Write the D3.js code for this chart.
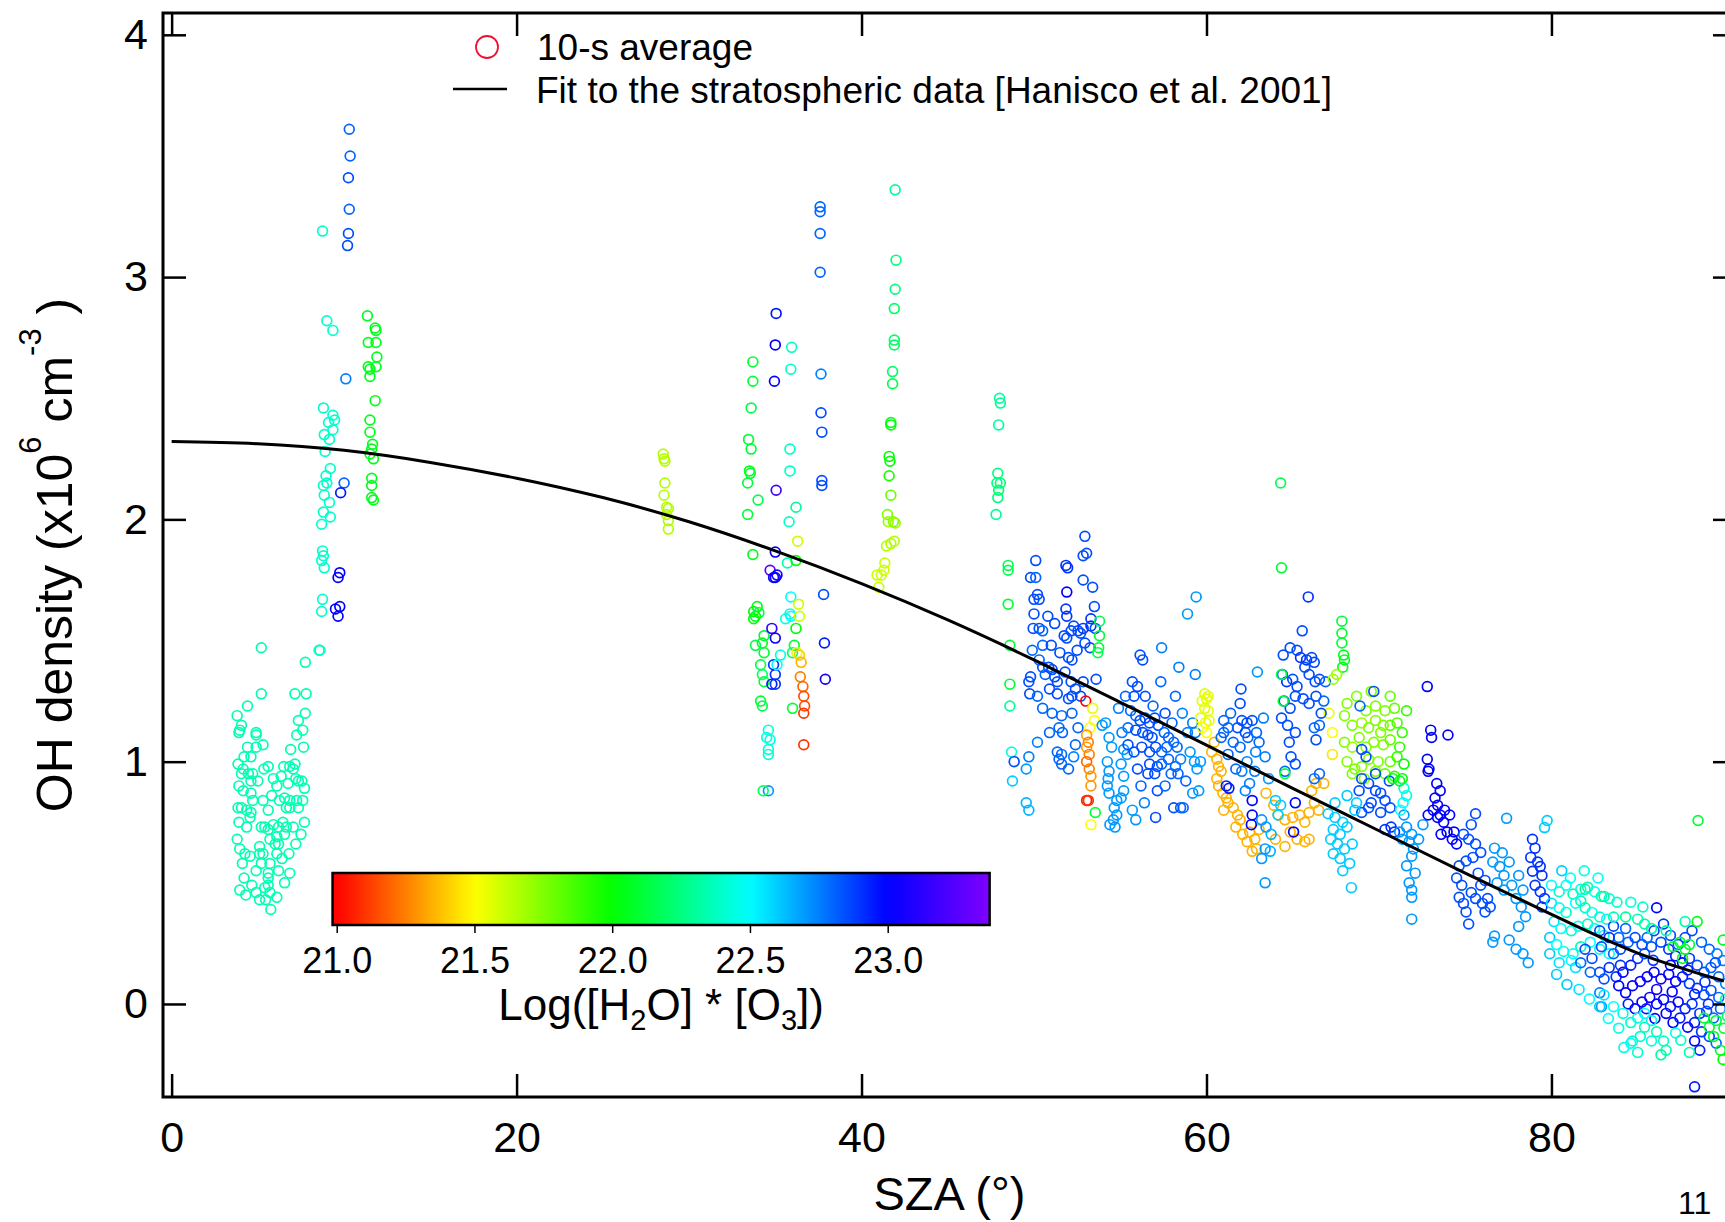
<!DOCTYPE html>
<html>
<head>
<meta charset="utf-8">
<script src="https://cdn.jsdelivr.net/npm/d3@7"></script>
<style>
  body { margin: 0; background: #fff; }
  svg { display: block; }
  text { font-family: "Liberation Sans", Arial, sans-serif; fill: #000; }
</style>
</head>
<body>
<div id="chart"></div>
<script>
// Axis ticks
const xTicks = [0, 20, 40, 60, 80];
const yTicks = [0, 1, 2, 3, 4];
const cbTicks = [21.0, 21.5, 22.0, 22.5, 23.0];

// Fit to the stratospheric data (Hanisco et al. 2001)
const fitSza = [0, 5, 10, 15, 20, 25, 30, 35, 40, 45, 50, 55, 60, 65, 70, 75, 80, 85, 90];
const fitOh  = [2.321, 2.312, 2.285, 2.235, 2.17, 2.09, 1.99, 1.87, 1.735, 1.585, 1.42, 1.245, 1.068, 0.89, 0.715, 0.54, 0.37, 0.21, 0.095];

// 10-s averages: [SZA, OH (1e6 cm-3), log([H2O]*[O3])]
const ptsA = [[5.2,1.47,22.35],[5.2,1.28,22.35],[4.4,1.23,22.35],[3.8,1.19,22.35],[4.05,1.15,22.35],[3.95,1.13,22.35],[3.9,1.12,22.35],[4.9,1.12,22.35],[4.9,1.11,22.35],[4.4,1.06,22.35],[4.9,1.06,22.35],[5.3,1.07,22.35],[3.85,0.99,22.35],[4.15,0.97,22.35],[4.05,0.95,22.35],[4.45,0.95,22.35],[4.7,0.95,22.35],[5.0,0.92,22.35],[4.6,0.92,22.35],[5.35,0.97,22.35],[5.9,0.93,22.35],[6.35,0.94,22.35],[6.75,0.91,22.35],[6.85,0.98,22.35],[7.15,0.99,22.35],[7.05,0.97,22.35],[7.35,0.92,22.35],[7.55,0.92,22.35],[7.7,0.89,22.35],[3.9,0.90,22.35],[4.15,0.88,22.35],[4.6,0.87,22.35],[4.7,0.84,22.35],[3.85,0.81,22.35],[4.05,0.81,22.35],[4.35,0.80,22.35],[4.6,0.79,22.35],[4.55,0.77,22.35],[3.9,0.75,22.35],[4.35,0.73,22.35],[6.25,0.84,22.35],[6.55,0.85,22.35],[6.85,0.84,22.35],[6.65,0.81,22.35],[7.25,0.84,22.35],[7.6,0.84,22.35],[7.35,0.81,22.35],[6.85,0.81,22.35],[5.2,0.73,22.35],[5.4,0.73,22.35],[5.6,0.72,22.35],[5.9,0.74,22.35],[6.2,0.73,22.35],[6.45,0.75,22.35],[6.65,0.73,22.35],[6.55,0.70,22.35],[7.05,0.73,22.35],[7.7,0.75,22.35],[6.1,0.69,22.35],[5.7,0.68,22.35],[6.0,0.66,22.35],[6.2,0.66,22.35],[3.8,0.68,22.35],[3.95,0.64,22.35],[4.25,0.62,22.35],[4.55,0.61,22.35],[5.1,0.65,22.35],[5.1,0.62,22.35],[5.3,0.62,22.35],[6.1,0.62,22.35],[5.7,0.58,22.35],[6.2,0.55,22.35],[5.6,0.54,22.35],[5.6,0.52,22.35],[6.85,0.54,22.35],[6.55,0.50,22.35],[3.95,0.47,22.35],[4.3,0.45,22.35],[4.65,0.49,22.35],[4.9,0.46,22.35],[5.4,0.48,22.35],[5.6,0.49,22.35],[5.7,0.46,22.35],[6.1,0.44,22.35],[5.45,0.43,22.35],[5.75,0.39,22.35],[5.1,0.43,22.35],[7.75,1.41,22.35],[7.15,1.28,22.35],[7.8,1.28,22.35],[7.75,1.20,22.35],[7.35,1.17,22.35],[7.6,1.13,22.35],[7.25,1.11,22.35],[7.65,1.06,22.35],
  [4.2,1.02,22.35],[4.6,1.02,22.35],[5.6,0.98,22.35],[5.8,0.86,22.35],[6.1,0.90,22.35],[5.3,0.84,22.35],[5.6,0.80,22.35],[6.4,0.60,22.35],[6.8,0.62,22.35],[7.2,0.66,22.35],[7.5,0.70,22.35],[7.2,0.93,22.35],[4.1,0.58,22.35],[4.9,0.55,22.35],[6.5,0.98,22.35],[4.2,0.52,22.35],[6.9,1.05,22.35],[5.2,0.58,22.35]];

const ptsB = [[8.75,3.19,22.4],[9.0,2.82,22.4],[9.35,2.78,22.4],[8.8,2.46,22.4],[9.1,2.40,22.4],[9.35,2.43,22.4],[9.45,2.41,22.4],[8.85,2.35,22.4],[9.35,2.37,22.4],[9.15,2.33,22.4],[8.9,2.28,22.4],[9.2,2.21,22.4],[8.95,2.18,22.4],[8.8,2.14,22.4],[9.0,2.15,22.4],[8.85,2.10,22.4],[9.15,2.07,22.4],[8.8,2.03,22.4],[9.2,2.01,22.4],[8.75,1.87,22.4],[8.85,1.80,22.4],[8.7,1.83,22.4],[8.75,1.67,22.4],[8.7,1.62,22.4],[8.6,1.46,22.4],[8.55,1.46,22.4],[8.7,1.98,22.4],[8.8,1.85,22.4],
  [10.3,3.61,22.8],[10.35,3.50,22.8],[10.25,3.41,22.85],[10.3,3.28,22.8],[10.25,3.18,22.85],[10.2,3.13,22.85],[10.1,2.58,22.75],[10.0,2.15,22.8],[9.8,2.11,22.95],[9.75,1.78,23.0],[9.65,1.76,23.0],[9.5,1.63,23.0],[9.75,1.64,23.0],[9.65,1.60,23.0],
  [11.35,2.84,22.05],[11.8,2.79,22.05],[11.85,2.78,22.05],[11.85,2.73,22.05],[11.4,2.73,22.05],[11.9,2.67,22.05],[11.4,2.63,22.05],[11.85,2.63,22.05],[11.5,2.62,22.05],[11.5,2.59,22.05],[11.8,2.49,22.05],[11.5,2.41,22.05],[11.5,2.36,22.05],[11.65,2.31,22.05],[11.6,2.29,22.05],[11.7,2.25,22.05],[11.5,2.27,22.05],[11.6,2.17,22.05],[11.6,2.14,22.05],[11.6,2.09,22.05],[11.7,2.08,22.05]];

const ptsC = [[28.5,2.27,21.65],[28.55,2.25,21.65],[28.6,2.24,21.65],[28.6,2.15,21.65],[28.55,2.10,21.65],[28.7,2.05,21.65],[28.8,2.045,21.65],[28.7,2.02,21.65],[28.8,1.995,21.65],[28.8,1.96,21.65]];

const ptsD = [[33.7,2.65,22.1],[33.7,2.57,22.1],[33.6,2.46,22.15],[33.45,2.33,22.1],[33.6,2.29,22.1],[33.5,2.20,22.05],[33.55,2.19,22.1],[33.4,2.15,22.1],[34.0,2.08,22.15],[33.4,2.02,22.1],[33.7,1.855,22.05],
  [33.95,1.64,22.05],[33.75,1.62,22.0],[33.85,1.60,22.05],[34.05,1.615,22.1],[33.75,1.59,22.0],[34.35,1.52,22.1],[34.25,1.49,22.05],[33.85,1.48,22.15],[34.35,1.45,22.1],[34.15,1.40,22.15],[34.25,1.36,22.2],[34.35,1.33,22.1],[34.15,1.25,22.1],[34.25,1.23,22.15],
  [35.05,2.85,22.95],[35.0,2.72,23.0],[34.95,2.57,23.0],[35.05,2.12,23.2],[35.0,1.865,23.0],[34.7,1.79,23.25],[34.9,1.76,23.05],[35.1,1.77,23.05],[35.0,1.76,23.0],[34.8,1.55,23.15],[35.0,1.51,23.05],[34.9,1.40,22.9],[35.0,1.36,22.9],[34.8,1.32,22.95],[35.0,1.32,22.9],
  [34.6,0.88,22.7],[34.3,0.88,22.2],[35.95,2.71,22.4],[35.9,2.62,22.4],[35.85,2.29,22.4],[35.85,2.20,22.4],[36.2,2.05,22.3],[35.8,1.99,22.4],[36.3,1.91,21.6],[35.7,1.82,22.35],[36.2,1.83,22.0],[35.9,1.68,22.5],[35.9,1.60,22.5],[35.85,1.61,22.45],[35.6,1.59,22.45],[36.35,1.65,21.6],[36.4,1.60,21.6],[36.2,1.55,22.0],[36.1,1.48,22.1],[36.0,1.45,22.2],[36.25,1.45,21.55],[36.4,1.44,21.4],[36.5,1.41,21.35],[36.45,1.35,21.25],[36.6,1.31,21.2],[36.65,1.27,21.15],[36.7,1.23,21.15],[36.65,1.20,21.1],[36.65,1.07,21.1],[34.6,1.13,22.45],[34.5,1.10,22.45],[34.7,1.09,22.45],[34.6,1.05,22.45],[34.6,1.03,22.4],[35.1,1.40,22.5],[35.3,1.44,22.45],[36.0,1.22,22.1],
  [37.6,3.29,22.8],[37.6,3.27,22.8],[37.6,3.18,22.8],[37.6,3.02,22.8],[37.65,2.60,22.75],[37.65,2.44,22.85],[37.7,2.36,22.85],[37.7,2.16,22.85],[37.7,2.14,22.85],[37.8,1.69,22.85],[37.85,1.49,22.95],[37.9,1.34,23.05]];

const ptsE = [[41.95,3.36,22.3],[42.0,3.07,22.25],[41.95,2.95,22.25],[41.9,2.87,22.2],[41.9,2.74,22.2],[41.9,2.72,22.2],[41.8,2.61,22.2],[41.8,2.56,22.15],[41.7,2.40,22.05],[41.7,2.39,22.0],[41.6,2.26,22.0],[41.65,2.24,22.0],[41.6,2.18,21.95],[41.7,2.10,21.8],[41.5,2.02,21.75],[41.55,1.99,21.7],[41.85,1.99,21.75],[41.95,1.985,21.7],[41.9,1.91,21.65],[41.7,1.90,21.65],[41.45,1.89,21.65],[41.35,1.82,21.6],[41.3,1.79,21.6],[41.15,1.77,21.6],[40.9,1.77,21.6],[41.0,1.72,21.6]];

const ptsF = [[48.0,2.50,22.3],[48.05,2.48,22.3],[47.95,2.39,22.3],[47.9,2.19,22.25],[47.85,2.15,22.25],[48.05,2.15,22.25],[47.95,2.12,22.2],[47.9,2.09,22.25],[47.8,2.02,22.3],[48.5,1.81,22.15],[48.5,1.79,22.15],[48.5,1.65,22.1],[48.6,1.48,22.1],[48.6,1.32,22.1],[48.6,1.23,22.3],[48.7,1.04,22.45],[48.85,1.00,22.85],[48.75,0.92,22.6]];

const ptsR1 = [[52.95,1.93,22.85],[51.85,1.81,22.9],[51.95,1.80,22.9],[52.85,1.85,22.85],[53.05,1.86,22.85],[50.1,1.83,22.85],[49.8,1.76,22.85],[50.1,1.76,22.8],[50.2,1.69,22.85],[50.0,1.67,22.85],[50.3,1.67,22.85],[51.9,1.70,23.0],[52.85,1.75,22.85],[53.4,1.72,22.85],[53.5,1.64,22.85],[50.0,1.61,22.85],[49.95,1.55,22.85],[50.3,1.55,22.85],[50.5,1.54,22.8],[51.85,1.63,22.9],[51.9,1.60,22.9],[53.3,1.59,22.9],[53.3,1.56,22.9],[53.55,1.55,22.85],[52.3,1.56,22.85],[52.55,1.54,22.85],[52.85,1.55,22.9],[52.15,1.54,22.85],[52.7,1.53,22.85],[49.9,1.46,22.8],[50.5,1.48,22.8],[51.0,1.48,22.85],[51.75,1.52,22.85],[51.9,1.51,22.85],[52.95,1.49,22.85],[53.25,1.47,22.85],[52.0,1.43,22.85],[52.2,1.42,22.85],[49.8,1.35,22.85],[49.7,1.33,22.85],[49.75,1.28,22.85],[50.5,1.39,22.85],[50.85,1.39,22.85],[51.05,1.38,22.85],[50.65,1.36,22.8],[51.2,1.35,22.85],[51.35,1.33,22.85],[52.15,1.33,22.85],[52.0,1.26,22.85],[52.2,1.27,22.85],[50.5,1.22,22.8],[51.05,1.20,22.8],[51.6,1.19,22.8],[51.35,1.28,22.85],[51.45,1.14,22.8],[51.65,1.12,22.8],[51.35,1.04,22.8],[51.6,1.03,22.8],[51.45,1.01,22.8],[51.6,0.99,22.8],[49.7,1.02,22.75],[49.55,0.97,22.7],[49.55,0.83,22.65],[49.7,0.80,22.65],[52.7,1.27,22.85],[52.85,1.33,22.85],[52.55,1.14,22.8],[53.6,1.34,22.85],
  [50.8,1.60,22.85],[51.2,1.57,22.85],[51.5,1.45,22.85],[50.3,1.42,22.8],[50.9,1.30,22.85],[51.8,1.37,22.85],[52.4,1.30,22.85],[52.5,1.46,22.85],[50.2,1.27,22.8],[50.9,1.12,22.8],[50.2,1.08,22.75],[52.2,1.20,22.8],[52.4,1.07,22.8],[52.0,0.97,22.8],[52.3,1.02,22.75],
  [53.8,1.58,22.15],[53.8,1.52,22.1],[53.75,1.47,22.1],[53.7,1.45,22.15],
  [53.0,1.25,21.0],[53.4,1.22,21.55],[53.5,1.17,21.5],[53.25,1.14,21.5],[53.05,1.11,21.3],[53.15,1.08,21.25],[53.05,1.06,21.3],[53.2,1.03,21.25],[53.05,1.00,21.2],[53.2,0.97,21.25],[53.3,0.94,21.3],[53.3,0.90,21.3],[53.05,0.84,21.05],[53.15,0.84,21.1],[53.55,0.79,22.1],[53.3,0.74,21.5],
  [53.95,1.15,22.7],[54.15,1.16,22.7],[54.35,1.10,22.7],[54.5,1.06,22.7],[54.25,1.00,22.7],[54.35,0.96,22.7],[54.3,0.93,22.7],[54.25,0.90,22.7],[54.35,0.87,22.7],[54.8,0.84,22.7],[54.65,0.81,22.7],[54.8,0.78,22.7],[54.6,0.76,22.7],[54.4,0.74,22.7],[54.7,0.73,22.7],[55.2,1.05,22.7],[55.4,1.03,22.7],[55.05,0.99,22.7],[55.2,0.94,22.7],[55.2,0.88,22.7],[55.05,0.85,22.7]];

const ptsR2 = [[56.15,1.44,22.85],[56.3,1.42,22.85],[57.4,1.47,22.75],[55.7,1.33,22.85],[56.0,1.31,22.85],[55.8,1.27,22.85],[56.45,1.27,22.85],[57.35,1.33,22.8],[55.6,1.21,22.8],[55.9,1.19,22.8],[56.15,1.17,22.85],[56.45,1.18,22.85],[56.7,1.16,22.85],[57.0,1.18,22.85],[57.2,1.15,22.85],[55.45,1.14,22.8],[55.9,1.13,22.85],[56.3,1.12,22.85],[56.6,1.11,22.85],[56.85,1.10,22.85],[57.55,1.12,22.8],[57.8,1.10,22.8],[55.45,1.07,22.85],[55.8,1.04,22.85],[56.25,1.06,22.85],[56.7,1.04,22.85],[57.05,1.06,22.85],[57.4,1.04,22.8],[57.7,1.06,22.8],[58.1,1.08,22.8],[58.3,1.06,22.8],[56.7,0.99,22.85],[57.15,0.98,22.85],[57.4,0.99,22.8],[57.8,1.01,22.8],[58.2,0.98,22.8],[58.5,1.01,22.75],[56.6,0.95,22.85],[57.0,0.95,22.85],[58.35,0.95,22.8],[57.95,0.95,22.8],[57.15,0.88,22.85],[58.5,0.81,22.8],[58.65,0.81,22.8],[58.1,0.81,22.85],[57.05,0.77,22.85],[59.05,1.04,22.7],[59.3,1.00,22.7],[59.45,0.97,22.7],[59.65,1.00,22.7],[58.9,1.12,22.75],[59.2,1.16,22.75],[59.35,1.12,22.75],[58.4,1.39,22.75],[59.35,1.36,22.75],[58.9,1.61,22.7],[59.4,1.68,22.7],[59.55,0.88,22.7],[59.2,0.87,22.7],
  [54.9,1.22,22.75],[55.3,1.27,22.8],[55.1,1.12,22.75],[56.9,1.23,22.8],[57.6,1.20,22.85],[58.0,1.16,22.8],[58.6,1.20,22.75],[58.8,0.92,22.8],[56.2,0.90,22.8],[55.7,0.80,22.7],[55.9,0.76,22.7],[56.4,0.83,22.75],[58.2,1.27,22.8],[57.6,0.90,22.8],[56.0,0.97,22.85],
  [59.9,1.28,21.55],[60.0,1.26,21.55],[60.1,1.27,21.55],[59.75,1.25,21.55],[59.9,1.22,21.55],[60.1,1.21,21.55],[59.65,1.18,21.55],[59.95,1.16,21.55],[60.15,1.17,21.55],[59.75,1.14,21.5],[60.0,1.12,21.5]];

const ptsR3 = [[60.45,1.08,21.35],[60.3,1.04,21.35],[60.6,1.01,21.35],[60.7,0.98,21.35],[60.85,0.96,21.35],[60.6,0.93,21.35],[60.7,0.90,21.35],[60.95,0.87,21.35],[61.15,0.85,21.35],[61.0,0.80,21.35],[61.25,0.83,21.35],[61.55,0.81,21.35],[61.8,0.78,21.35],[61.95,0.76,21.35],[61.7,0.73,21.35],[62.1,0.70,21.35],[62.35,0.67,21.35],[62.5,0.71,21.35],[62.8,0.68,21.35],[62.9,0.64,21.35],[63.05,0.72,21.35],[62.65,0.63,21.35],[63.45,0.87,21.35],[63.9,0.82,21.35],[64.15,0.78,21.35],[64.55,0.76,21.35],[65.0,0.77,21.35],[65.4,0.78,21.35],[65.7,0.75,21.35],[65.95,0.79,21.35],[66.25,0.83,21.35],[66.5,0.80,21.35],[66.1,0.88,21.35],[66.35,0.91,21.35],[66.8,0.91,21.35],[64.85,0.71,21.35],[65.25,0.68,21.35],[65.7,0.67,21.35],[64.55,0.65,21.35],[64.0,0.68,21.35],[65.95,0.68,21.35],
  [67.3,1.12,21.5],[67.3,1.03,21.45],[67.1,1.20,21.55],
  [61.95,1.24,22.85],[62.05,1.17,22.85],[62.35,1.16,22.85],[62.65,1.17,22.85],[61.8,1.14,22.85],[62.25,1.12,22.85],[61.25,1.14,22.8],[61.0,1.12,22.8],[61.55,1.08,22.8],[61.95,1.06,22.8],[61.25,1.03,22.8],[60.85,1.10,22.8],[62.9,1.12,22.8],[63.05,1.08,22.8],[62.85,1.04,22.75],[62.35,1.00,22.75],[62.8,0.96,22.75],[62.05,0.96,22.75],[62.5,0.91,22.75],[62.25,0.88,22.75],[62.65,0.84,23.0],[62.65,0.78,23.0],[62.6,0.74,23.0],[61.15,0.90,22.95],[61.3,0.89,22.95],[63.4,0.50,22.7],[62.95,1.37,22.7],[63.2,0.76,22.7],[63.45,0.73,22.7],[63.75,0.70,22.65],[63.7,0.63,22.65],[63.4,0.64,22.7],[63.2,0.60,22.7],[64.0,0.84,22.6],[64.3,0.82,22.6],[64.15,0.78,22.6],[65.15,0.83,23.0],[65.05,0.71,23.0],
  [61.4,1.20,22.8],[61.0,1.17,22.8],[62.4,1.10,22.8],[63.4,1.02,22.75],[63.3,1.18,22.75],[63.6,0.93,22.7],[62.0,1.30,22.85],[61.7,0.97,22.8],
  [65.55,1.54,22.85],[65.9,1.68,22.9],[64.45,1.44,22.85],[64.85,1.47,22.85],[65.25,1.46,22.85],[65.45,1.43,22.9],[65.8,1.42,22.9],[66.1,1.43,22.85],[66.25,1.41,22.85],[64.4,1.36,22.85],[64.65,1.33,22.9],[65.0,1.34,22.85],[65.25,1.31,22.85],[65.7,1.39,22.85],[65.95,1.36,22.85],[66.3,1.33,22.85],[66.55,1.34,22.85],[64.5,1.25,22.85],[64.85,1.22,22.85],[64.35,1.18,22.85],[65.15,1.27,22.85],[65.6,1.26,22.85],[65.95,1.24,22.85],[66.35,1.27,22.85],[66.8,1.25,22.8],[66.65,1.20,22.85],[64.7,1.15,22.85],[65.15,1.12,22.85],[64.8,1.08,22.85],[64.9,1.02,22.85],[65.15,0.99,22.85],[64.55,0.96,22.8],[66.35,1.09,22.85],[66.55,1.15,22.8],[66.25,1.14,22.8],[66.9,1.33,22.8],[66.55,0.95,22.8],[66.25,0.93,22.8],
  [64.35,1.36,22.15],[64.45,1.25,22.1],[64.3,2.15,22.15],[64.35,1.80,22.1],[64.55,0.95,22.1]];

const ptsR4 = [[67.85,1.58,22.1],[67.85,1.53,22.1],[67.85,1.49,22.1],[67.95,1.44,22.05],[68.0,1.42,22.05],[67.9,1.39,22.05],[67.55,1.36,21.7],[67.35,1.34,21.7],
  [68.15,1.24,21.75],[68.7,1.27,21.75],[69.55,1.29,21.75],[70.65,1.27,21.8],[69.8,1.23,21.75],[70.35,1.21,21.75],[70.9,1.22,21.8],[71.6,1.21,21.9],[68.0,1.19,21.75],[68.45,1.15,21.75],[69.0,1.16,21.7],[69.4,1.14,21.75],[69.8,1.17,21.75],[70.1,1.12,21.75],[70.65,1.15,21.8],[71.05,1.16,21.85],[71.35,1.12,21.9],[68.0,1.08,21.75],[68.45,1.06,21.7],[68.85,1.10,21.75],[69.25,1.06,21.75],[69.7,1.08,21.75],[70.25,1.07,21.75],[70.65,1.09,21.8],[71.2,1.06,21.9],[68.15,1.00,21.75],[68.6,0.97,21.75],[69.0,0.98,21.75],[69.4,1.01,21.75],[69.95,1.00,21.75],[70.65,1.00,21.8],[71.05,1.02,21.9],[71.45,0.99,22.0],[68.45,0.95,21.75],[69.15,0.93,21.75],[69.8,0.96,21.75],[70.35,0.95,21.8],[70.9,0.94,21.9],[71.35,0.93,22.0],[70.25,1.15,21.75],[69.25,1.21,21.75],
  [68.9,1.23,22.8],[69.7,1.29,22.85],[69.0,1.05,22.85],[69.25,1.02,22.85],[69.8,0.95,22.85],[69.0,0.93,22.85],[69.4,0.91,22.85],[68.85,0.88,22.85],[69.8,0.88,22.85],[70.6,0.92,22.85],[70.1,0.87,22.85],[69.55,0.83,22.85],[70.35,0.84,22.85],[69.0,0.79,22.85],[69.4,0.81,22.85],[70.1,0.79,22.85],[70.65,0.81,22.85],[70.7,0.73,22.9],[70.35,0.72,22.9],[70.9,0.71,22.9],
  [67.05,0.785,22.6],[67.45,0.77,22.6],[67.9,0.75,22.6],[68.15,0.73,22.6],[67.35,0.72,22.6],[67.75,0.70,22.6],[67.2,0.68,22.6],[67.6,0.66,22.6],[68.0,0.64,22.6],[68.45,0.66,22.6],[67.35,0.62,22.6],[67.75,0.60,22.6],[68.3,0.58,22.6],[67.9,0.55,22.6],[68.4,0.48,22.6],[68.6,0.80,22.6],[68.7,0.83,22.6],[67.45,0.83,22.6],[68.15,0.86,22.6],
  [71.45,0.78,22.7],[71.6,0.73,22.7],[71.9,0.70,22.7],[71.75,0.67,22.7],[72.0,0.64,22.7],[71.9,0.61,22.7],[71.6,0.57,22.7],[72.1,0.54,22.7],[71.75,0.50,22.7],[71.9,0.47,22.7],[71.9,0.44,22.7],[71.9,0.35,22.7],[72.3,0.68,22.7],[72.55,0.74,22.7],[71.35,0.68,22.7],[71.2,0.71,22.7],
  [71.25,0.80,22.5],[71.4,0.83,22.5],[71.6,0.86,22.45],[71.45,0.89,22.45],[70.8,0.93,22.05],[71.2,0.92,22.05]];

const ptsR5 = [[72.8,1.31,23.0],[73.0,1.13,23.0],[73.05,1.10,23.0],[74.0,1.11,23.0],[72.8,1.01,23.0],[72.9,0.97,23.0],[72.85,0.96,23.0],[73.35,0.91,23.0],[73.55,0.88,23.0],[73.25,0.85,23.0],[73.4,0.82,23.0],[73.15,0.80,23.0],[73.55,0.78,23.0],[73.8,0.80,23.0],[74.1,0.78,23.0],[73.75,0.75,23.0],[73.95,0.71,23.0],[74.25,0.68,23.0],[74.35,0.71,23.0],[74.5,0.66,23.0],[73.6,0.70,23.0],[73.4,0.77,23.0],[72.85,0.78,23.0],
  [75.6,0.785,22.85],[75.35,0.74,22.85],[74.9,0.70,22.85],[75.2,0.68,22.85],[75.6,0.66,22.85],[75.9,0.625,22.85],[75.45,0.605,22.85],[75.05,0.59,22.85],[74.65,0.57,22.85],[74.5,0.52,22.85],[74.8,0.49,22.85],[75.35,0.46,22.85],[75.9,0.49,22.85],[75.75,0.54,22.85],[76.15,0.51,22.85],[75.6,0.435,22.85],[76.0,0.415,22.85],[76.3,0.435,22.85],[76.45,0.40,22.85],[76.15,0.38,22.85],[75.05,0.38,22.85],[74.9,0.415,22.85],[75.2,0.33,22.85],[74.65,0.44,22.85],
  [76.6,0.586,22.7],[76.7,0.643,22.7],[77.15,0.624,22.7],[77.0,0.567,22.7],[77.25,0.53,22.7],[77.55,0.586,22.7],[76.85,0.50,22.7],[77.25,0.47,22.7],[77.7,0.49,22.7],[77.4,0.766,22.7],[78.1,0.53,22.7],[78.35,0.47,22.7],[77.95,0.435,22.7],[78.25,0.40,22.7],[78.5,0.36,22.7],[78.1,0.32,22.7],[76.7,0.28,22.7],[76.6,0.255,22.7],[77.55,0.264,22.7],[77.95,0.226,22.7],[78.35,0.207,22.7],[78.65,0.17,22.7],
  [78.9,0.68,22.9],[79.05,0.643,22.9],[78.8,0.605,22.9],[79.2,0.586,22.9],[79.35,0.567,22.9],[78.9,0.548,22.9],[79.45,0.53,22.9],[79.05,0.49,22.9],[79.35,0.463,22.9],[79.6,0.435,22.9],[79.45,0.40,22.9],
  [79.75,0.757,22.6],[79.6,0.728,22.6]];

const ptsR6 = [[80.0,0.49,22.5],[80.45,0.463,22.4],[80.85,0.49,22.5],[81.25,0.454,22.35],[81.7,0.473,22.45],[82.1,0.482,22.35],[82.5,0.463,22.5],[82.9,0.444,22.35],[83.35,0.435,22.45],[80.0,0.416,22.55],[80.45,0.397,22.5],[80.85,0.378,22.4],[81.4,0.416,22.5],[81.95,0.397,22.35],[82.35,0.378,22.5],[82.8,0.359,22.4],[83.2,0.35,22.5],[80.15,0.34,22.55],[80.55,0.311,22.5],[81.15,0.302,22.4],[81.55,0.321,22.5],[82.1,0.33,22.35],[82.5,0.311,22.5],[83.05,0.283,22.45],[79.9,0.274,22.6],[80.3,0.245,22.5],[80.7,0.217,22.45],[81.25,0.207,22.5],[81.7,0.236,22.35],[82.25,0.255,22.5],[82.8,0.226,22.45],[83.35,0.207,22.5],[79.9,0.207,22.6],[80.45,0.17,22.55],[80.3,0.122,22.6],[81.15,0.179,22.5],[81.4,0.15,22.55],
  [80.6,0.55,22.6],[81.1,0.52,22.5],[81.9,0.55,22.45],[82.7,0.52,22.5],[83.8,0.42,22.4],[84.6,0.42,22.45],[85.3,0.40,22.4],[80.9,0.08,22.6],[81.6,0.06,22.55],[82.2,0.02,22.5],[83.3,-0.06,22.5],[83.9,-0.10,22.45],[84.2,-0.18,22.45],[85.0,-0.20,22.4],
  [82.8,0.131,22.85],[83.05,0.103,22.85],[83.35,0.15,22.9],[83.75,0.112,22.9],[84.15,0.131,23.0],[84.6,0.16,22.95],[85.0,0.188,22.9],[85.4,0.207,22.85],[85.8,0.236,22.85],[86.1,0.397,23.0],[86.35,0.255,22.85],[86.8,0.226,22.9],[87.2,0.198,22.95],[87.6,0.17,23.0],[88.0,0.188,22.9],[88.45,0.16,22.85],[88.85,0.131,22.85],[89.25,0.15,22.8],[89.7,0.112,22.8],[90.1,0.084,22.75],[83.9,0.075,23.0],[84.3,0.046,23.0],[84.7,0.075,23.0],[85.15,0.093,23.05],[85.55,0.112,23.0],[85.95,0.131,23.0],[86.35,0.103,23.05],[86.8,0.122,23.0],[87.2,0.093,23.0],[87.6,0.112,22.95],[88.0,0.084,22.9],[88.45,0.065,22.9],[88.85,0.037,22.85],[89.25,0.056,22.85],[89.7,0.027,22.8],[84.45,0.0,22.95],[84.85,-0.02,23.0],[85.25,0.008,23.0],[85.7,0.027,23.05],[86.1,0.0,23.0],[86.5,0.018,23.0],[86.9,-0.011,22.95],[87.35,0.008,23.0],[87.75,-0.02,22.95],[88.15,0.0,22.9],[88.6,-0.039,22.9],[89.0,-0.03,22.85],[89.4,-0.058,22.8],[89.8,-0.02,22.8],[86.65,-0.039,23.0],[87.05,-0.077,23.0],[87.45,-0.058,22.95],[87.9,-0.096,23.0],[88.3,-0.077,22.95],[88.7,-0.115,22.9],[89.15,-0.134,22.85],[89.55,-0.162,22.8],[88.3,-0.153,23.0],[88.6,-0.191,22.95],[88.3,-0.342,22.95],[85.25,0.245,22.85],[85.55,0.274,22.8],[85.95,0.302,22.85],[86.5,0.33,22.9],[86.9,0.283,22.85],[87.35,0.245,22.8],[87.75,0.274,22.85],[88.15,0.302,22.85],[88.7,0.255,22.8],[89.15,0.226,22.8],[89.6,0.207,22.75],[89.95,0.179,22.75],[83.6,0.207,22.8],[84.0,0.226,22.85],[84.45,0.255,22.8],[84.85,0.274,22.85],[84.3,0.311,22.8],[83.9,0.274,22.8],[81.95,0.226,22.85],[82.35,0.188,22.85],[81.7,0.17,22.8],[82.8,0.302,22.85],[83.35,0.274,22.9],[82.9,0.236,22.85],[83.6,0.321,22.85],[82.25,0.131,22.8],[82.8,0.046,22.75],[82.9,-0.011,22.7],
  [84.0,0.16,22.9],[85.9,0.18,22.9],[86.9,0.16,23.0],[87.9,0.14,22.95],[88.9,0.09,22.9],[89.5,0.17,22.85],[86.1,0.06,23.05],[87.0,0.05,23.0],[88.3,0.04,22.95],[89.1,0.0,22.9],[85.5,-0.02,22.95],[86.0,-0.06,23.0],
  [84.15,-0.039,22.45],[84.6,-0.077,22.4],[85.0,-0.058,22.45],[85.4,-0.096,22.35],[85.8,-0.068,22.45],[84.7,-0.153,22.4],[84.6,-0.162,22.5],[85.15,-0.134,22.4],[86.1,-0.115,22.35],[86.5,-0.153,22.4],[86.65,-0.191,22.35],[86.35,-0.21,22.3],[85.8,-0.153,22.45],[85.4,-0.039,22.5],[83.6,-0.011,22.5],[82.8,-0.011,22.6],[83.05,0.037,22.55],[87.5,-0.15,22.4],[88.0,-0.20,22.35],[87.2,-0.12,22.45],
  [87.45,0.255,22.05],[87.75,0.226,22.1],[87.6,0.188,22.05],[87.05,0.236,22.1],[88.0,0.245,22.1],[88.45,0.34,22.05],[88.85,-0.058,22.1],[89.15,-0.096,22.1],[89.4,-0.134,22.05],[89.8,-0.191,22.05],[89.95,-0.229,22.0],[89.55,-0.068,22.15],[88.5,0.757,22.1],[89.95,0.264,22.05],[90.0,-0.10,22.1],[90.1,0.02,22.3],[90.2,-0.05,22.2],
  [81.7,0.425,22.35],[81.95,0.473,22.3],[83.05,0.444,22.3],[83.6,0.359,22.35],[84.3,0.359,22.3],[85.0,0.35,22.35],[85.4,0.33,22.35],[85.8,0.311,22.3],[86.65,0.302,22.3],[87.75,0.34,22.35]];

const points = [].concat(ptsA, ptsB, ptsC, ptsD, ptsE, ptsF, ptsR1, ptsR2, ptsR3, ptsR4, ptsR5, ptsR6);

// Layout
const W = 1725, H = 1222;
const frame = { left: 163, top: 13, right: 1736, bottom: 1097 };

const svg = d3.select("#chart").append("svg")
  .attr("width", W)
  .attr("height", H);

const x = d3.scaleLinear().domain([-0.5, 90.7]).range([frame.left, frame.right]);
const y = d3.scaleLinear().domain([-0.384, 4.09]).range([frame.bottom, frame.top]);

// colour table (rainbow, red -> violet)
const color = d3.scaleLinear()
  .domain([21.0, 21.5, 22.0, 22.5, 23.0, 23.37])
  .range(["#ff0000", "#ffff00", "#00ff00", "#00ffff", "#0000ff", "#8000ff"])
  .clamp(true);

svg.append("clipPath").attr("id", "plotClip")
  .append("rect")
  .attr("x", frame.left).attr("y", frame.top)
  .attr("width", frame.right - frame.left).attr("height", frame.bottom - frame.top);

// Points
svg.append("g")
  .attr("clip-path", "url(#plotClip)")
  .selectAll("circle")
  .data(points)
  .enter().append("circle")
  .attr("cx", d => x(d[0]))
  .attr("cy", d => y(d[1]))
  .attr("r", 4.9)
  .attr("fill", "none")
  .attr("stroke", d => color(d[2]))
  .attr("stroke-width", 1.7);

// Fit line
const fitData = fitSza.map((s, i) => [s, fitOh[i]]);
svg.append("path")
  .datum(fitData)
  .attr("clip-path", "url(#plotClip)")
  .attr("fill", "none")
  .attr("stroke", "#000")
  .attr("stroke-width", 3)
  .attr("d", d3.line().x(d => x(d[0])).y(d => y(d[1])).curve(d3.curveNatural));

// Axes (ticks point inward on all four sides)
const tickLen = 23;
const fontTick = 43;

const xAxis = svg.append("g")
  .attr("transform", `translate(0,${frame.bottom})`)
  .call(d3.axisBottom(x).tickValues(xTicks).tickFormat(d3.format("d")).tickSizeInner(-tickLen).tickSizeOuter(0).tickPadding(24));
const yAxis = svg.append("g")
  .attr("transform", `translate(${frame.left},0)`)
  .call(d3.axisLeft(y).tickValues(yTicks).tickFormat(d3.format("d")).tickSizeInner(-tickLen).tickSizeOuter(0).tickPadding(15));
const xTop = svg.append("g")
  .attr("transform", `translate(0,${frame.top})`)
  .call(d3.axisTop(x).tickValues(xTicks).tickSizeInner(-tickLen).tickSizeOuter(0));
const yRight = svg.append("g")
  .attr("transform", `translate(${frame.right},0)`)
  .call(d3.axisRight(y).tickValues(yTicks).tickSizeInner(-tickLen).tickSizeOuter(0));

xTop.selectAll(".tick text").remove();
yRight.selectAll(".tick text").remove();

[xAxis, yAxis, xTop, yRight].forEach(g => {
  g.select(".domain").remove();
  g.selectAll(".tick line").attr("stroke", "#000").attr("stroke-width", 2.5);
  g.selectAll(".tick text")
    .attr("font-size", fontTick)
    .attr("font-family", "Liberation Sans, Arial, sans-serif")
    .attr("fill", "#000");
});

// Frame
svg.append("rect")
  .attr("x", frame.left).attr("y", frame.top)
  .attr("width", frame.right - frame.left).attr("height", frame.bottom - frame.top)
  .attr("fill", "none").attr("stroke", "#000").attr("stroke-width", 3);

// Axis titles
svg.append("text")
  .attr("x", (frame.left + frame.right) / 2)
  .attr("y", 1210)
  .attr("text-anchor", "middle")
  .attr("font-size", 47)
  .text("SZA (°)");

const yTitle = svg.append("text")
  .attr("transform", `translate(72,${(frame.top + frame.bottom) / 2}) rotate(-90)`)
  .attr("text-anchor", "middle")
  .attr("font-size", 50);
yTitle.append("tspan").text("OH density (x10");
yTitle.append("tspan").attr("font-size", 31).attr("dy", -31).text("6");
yTitle.append("tspan").attr("dy", 31).text(" cm");
yTitle.append("tspan").attr("font-size", 31).attr("dy", -31).text("-3");
yTitle.append("tspan").attr("dy", 31).text(" )");

// Legend
svg.append("circle")
  .attr("cx", 487).attr("cy", 47).attr("r", 11)
  .attr("fill", "none").attr("stroke", "#ee1133").attr("stroke-width", 1.8);
svg.append("text")
  .attr("x", 537).attr("y", 60)
  .attr("font-size", 37)
  .text("10-s average");
svg.append("line")
  .attr("x1", 453).attr("x2", 507).attr("y1", 89).attr("y2", 89)
  .attr("stroke", "#000").attr("stroke-width", 2.5);
svg.append("text")
  .attr("x", 536).attr("y", 103)
  .attr("font-size", 37)
  .text("Fit to the stratospheric data [Hanisco et al. 2001]");

// Colour bar
const cb = d3.scaleLinear().domain([21.0, 23.0]).range([336.7, 887.7]);
const cbLo = 20.985, cbHi = 23.37;
const cbTop = 873, cbBottom = 925;

const grad = svg.append("defs").append("linearGradient")
  .attr("id", "cbGrad")
  .attr("x1", "0%").attr("x2", "100%").attr("y1", "0%").attr("y2", "0%");
d3.range(0, 1.0001, 0.02).forEach(t => {
  grad.append("stop")
    .attr("offset", (t * 100) + "%")
    .attr("stop-color", color(cbLo + t * (cbHi - cbLo)));
});

svg.append("rect")
  .attr("x", cb(cbLo)).attr("y", cbTop)
  .attr("width", cb(cbHi) - cb(cbLo)).attr("height", cbBottom - cbTop)
  .attr("fill", "url(#cbGrad)")
  .attr("stroke", "#000").attr("stroke-width", 2.5);

const cbAxis = svg.append("g")
  .attr("transform", `translate(0,${cbBottom})`)
  .call(d3.axisBottom(cb).tickValues(cbTicks).tickFormat(d3.format(".1f")).tickSizeInner(8).tickSizeOuter(0).tickPadding(14));
cbAxis.select(".domain").remove();
cbAxis.selectAll(".tick line").attr("stroke", "#000").attr("stroke-width", 1.5);
cbAxis.selectAll(".tick text")
  .attr("font-size", 36)
  .attr("font-family", "Liberation Sans, Arial, sans-serif")
  .attr("fill", "#000");

const cbTitle = svg.append("text")
  .attr("x", (cb(cbLo) + cb(cbHi)) / 2)
  .attr("y", 1020)
  .attr("text-anchor", "middle")
  .attr("font-size", 44);
cbTitle.append("tspan").text("Log([H");
cbTitle.append("tspan").attr("font-size", 29).attr("dy", 10).text("2");
cbTitle.append("tspan").attr("dy", -10).text("O] * [O");
cbTitle.append("tspan").attr("font-size", 29).attr("dy", 10).text("3");
cbTitle.append("tspan").attr("dy", -10).text("])");

// Slide page number
svg.append("text")
  .attr("x", 1678).attr("y", 1214)
  .attr("font-size", 32)
  .attr("font-family", "DejaVu Sans Condensed, DejaVu Sans, sans-serif")
  .attr("fill", "#a0a0a0")
  .text("11");
</script>
</body>
</html>
